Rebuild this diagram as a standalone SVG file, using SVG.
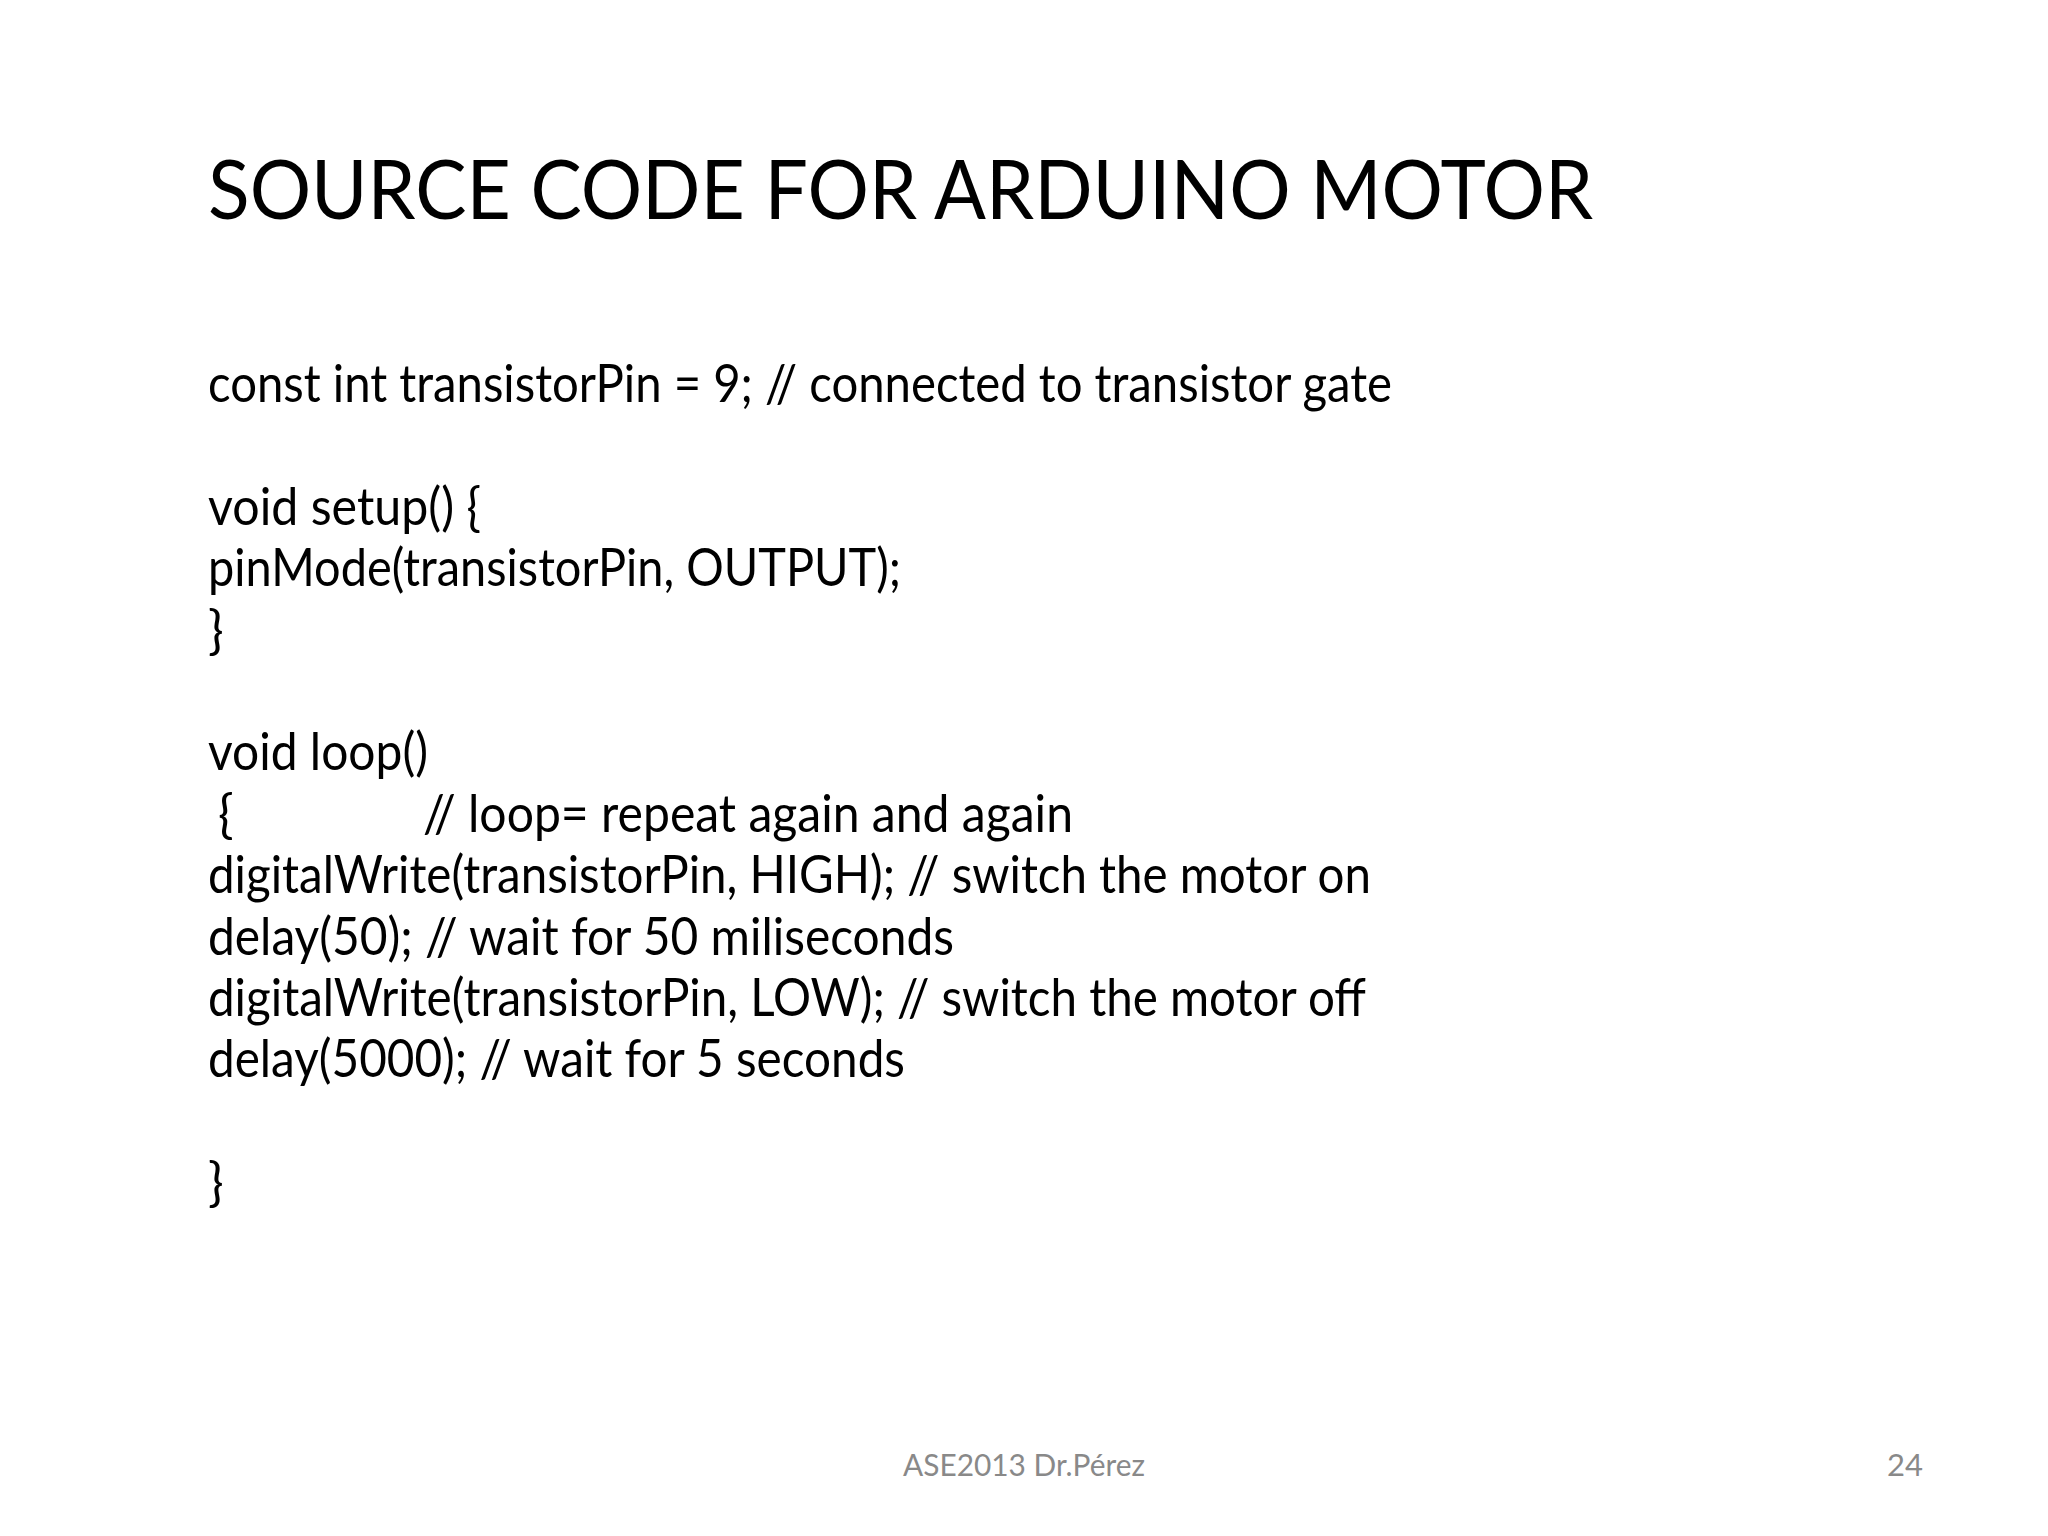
<svg xmlns="http://www.w3.org/2000/svg" width="2048" height="1536" viewBox="0 0 2048 1536">
<style>
.t{font-family:Lato,"Open Sans","Liberation Sans",sans-serif;fill:#000000}
.title{font-size:81px}
.code{font-size:52px}
.foot{font-family:Lato,"Open Sans","Liberation Sans",sans-serif;font-size:31px;fill:#898989}
</style>
<rect width="2048" height="1536" fill="#ffffff"/>
<g id="title">
<text class="t title" x="208" y="219" textLength="1385" lengthAdjust="spacingAndGlyphs">SOURCE CODE FOR ARDUINO MOTOR</text>
</g>
<g id="code">
<text class="t code" x="208" y="402" textLength="1184" lengthAdjust="spacingAndGlyphs">const int transistorPin = 9; // connected to transistor gate</text>
<text class="t code" x="208" y="525" textLength="273" lengthAdjust="spacingAndGlyphs">void setup() {</text>
<text class="t code" x="208" y="586" textLength="693" lengthAdjust="spacingAndGlyphs">pinMode(transistorPin, OUTPUT);</text>
<text class="t code" x="208" y="648">}</text>
<text class="t code" x="208" y="770" textLength="220" lengthAdjust="spacingAndGlyphs">void loop()</text>
<text class="t code" x="218" y="832">{</text>
<text class="t code" x="423" y="832" textLength="650" lengthAdjust="spacingAndGlyphs">// loop= repeat again and again</text>
<text class="t code" x="208" y="893" textLength="1163" lengthAdjust="spacingAndGlyphs">digitalWrite(transistorPin, HIGH); // switch the motor on</text>
<text class="t code" x="208" y="955" textLength="746" lengthAdjust="spacingAndGlyphs">delay(50); // wait for 50 miliseconds</text>
<text class="t code" x="208" y="1016" textLength="1158" lengthAdjust="spacingAndGlyphs">digitalWrite(transistorPin, LOW); // switch the motor off</text>
<text class="t code" x="208" y="1077" textLength="697" lengthAdjust="spacingAndGlyphs">delay(5000); // wait for 5 seconds</text>
<text class="t code" x="208" y="1200">}</text>
</g>
<g id="footer">
<text class="foot" x="903" y="1476" textLength="242" lengthAdjust="spacingAndGlyphs">ASE2013 Dr.Pérez</text>
<text class="foot" x="1923" y="1476" text-anchor="end">24</text>
</g>
</svg>
